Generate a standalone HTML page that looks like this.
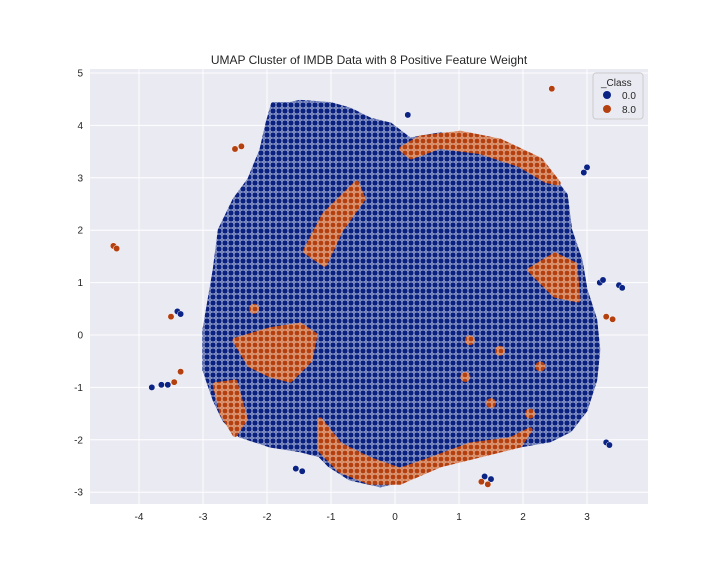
<!DOCTYPE html>
<html><head><meta charset="utf-8"><style>
body{margin:0;background:#fff;font-family:"Liberation Sans",sans-serif}
svg text{font-family:"Liberation Sans",sans-serif;fill:#262626}
</style></head><body>
<svg width="720" height="576" id="chart">
<defs>
<pattern id="navyDots" width="6" height="6" patternUnits="userSpaceOnUse">
<rect width="6" height="6" fill="#7080b8"/>
<circle cx="3" cy="3" r="2.9" fill="#0a2180" stroke="#cfd6ee" stroke-width="0.4"/>
</pattern>
<pattern id="orangeDots" width="6" height="6" patternUnits="userSpaceOnUse">
<rect width="6" height="6" fill="#d98a60"/>
<circle cx="3" cy="3" r="2.8" fill="#b5400f" stroke="#f3d8c8" stroke-width="0.4"/>
</pattern>
</defs>
<rect x="90" y="69" width="558" height="435" fill="#eaeaf2"/>
<g id="grid"></g>
<g id="marks"></g>
<g id="ticks"></g>
<text x="369" y="64" text-anchor="middle" font-size="12">UMAP Cluster of IMDB Data with 8 Positive Feature Weight</text>
<g>
<rect x="593" y="73" width="50" height="46" rx="3" fill="#eaeaf2" stroke="#cccccc"/>
<text x="601" y="86" font-size="10">_Class</text>
<circle cx="607" cy="95" r="4" fill="#0b2385"/>
<text x="622" y="99" font-size="10">0.0</text>
<circle cx="607" cy="109" r="4" fill="#b5400f"/>
<text x="622" y="113" font-size="10">8.0</text>
</g>
</svg>
<script>
const xTicks=[-4,-3,-2,-1,0,1,2,3];
const yTicks=[-3,-2,-1,0,1,2,3,4,5];
const mainBlob=[[-1.9,4.4],[-1.64,4.4],[-1.48,4.44],[-1.02,4.4],[-0.7,4.29],[-0.39,4.1],[-0.08,4.01],[0.23,3.72],[0.7,3.82],[1.33,3.72],[1.95,3.44],[2.42,3.05],[2.66,2.67],[2.73,2.0],[2.89,1.43],[2.97,0.86],[3.12,0.29],[3.17,-0.29],[3.12,-0.86],[2.97,-1.43],[2.73,-1.81],[2.42,-2.0],[1.95,-2.1],[1.48,-2.19],[1.17,-2.29],[0.7,-2.38],[0.39,-2.58],[0.08,-2.77],[-0.23,-2.86],[-0.7,-2.73],[-1.02,-2.48],[-1.17,-2.29],[-1.48,-2.19],[-1.95,-2.1],[-2.42,-1.91],[-2.66,-1.62],[-2.81,-1.24],[-2.97,-0.67],[-2.97,0.1],[-2.89,0.67],[-2.81,1.24],[-2.73,2.0],[-2.5,2.58],[-2.27,2.96],[-2.08,3.53],[-1.98,4.06]];
const orangeTop=[[0.1,3.55],[0.39,3.76],[1.02,3.85],[1.64,3.7],[2.27,3.34],[2.55,2.9],[2.36,2.95],[1.95,3.25],[1.33,3.5],[0.7,3.6],[0.25,3.4]];
const orangeBottom=[[-1.17,-1.62],[-0.86,-2.1],[-0.39,-2.38],[0.08,-2.58],[0.55,-2.38],[1.17,-2.1],[1.8,-2.0],[2.11,-1.81],[1.95,-2.1],[1.33,-2.29],[0.7,-2.48],[0.08,-2.81],[-0.39,-2.81],[-0.86,-2.58],[-1.17,-2.19]];
const orangeLeft=[[-2.5,-0.1],[-1.95,0.1],[-1.48,0.19],[-1.25,0.0],[-1.33,-0.48],[-1.64,-0.86],[-1.95,-0.76],[-2.27,-0.57]];
const orangeUpper=[[-1.4,1.6],[-1.1,2.3],[-0.6,2.9],[-0.5,2.6],[-0.85,2.0],[-1.1,1.35]];
const orangeRight=[[2.11,1.24],[2.5,1.53],[2.81,1.34],[2.86,0.67],[2.5,0.76]];
const orangeEdge=[[-2.81,-0.95],[-2.5,-0.9],[-2.34,-1.6],[-2.5,-1.9],[-2.7,-1.5]];
const orangeSpot=[[1.17,-0.1],[1.64,-0.3],[2.27,-0.6],[2.11,-1.5],[1.5,-1.3],[1.1,-0.8],[-2.2,0.5]];
const navyX=[-3.8,-3.65,-3.55,-3.4,-3.35,3.5,3.55,3.3,3.35,3.2,3.25,3.0,2.95,1.4,1.5,-1.55,-1.45,0.2];
const navyY=[-1.0,-0.95,-0.95,0.45,0.4,0.95,0.9,-2.05,-2.1,1.0,1.05,3.2,3.1,-2.7,-2.75,-2.55,-2.6,4.2];
const orangeX=[-4.4,-4.35,2.45,-3.45,-3.35,1.35,1.45,3.4,3.3,-2.5,-2.4,-3.5];
const orangeY=[1.7,1.65,4.7,-0.9,-0.7,-2.8,-2.85,0.3,0.35,3.55,3.6,0.35];
const X=v=>395+v*64, Y=v=>335-v*52.4;
const ns="http://www.w3.org/2000/svg";
const grid=document.getElementById('grid'),marks=document.getElementById('marks'),ticks=document.getElementById('ticks');
xTicks.forEach(t=>{const l=document.createElementNS(ns,'line');l.setAttribute('x1',X(t));l.setAttribute('x2',X(t));l.setAttribute('y1',69);l.setAttribute('y2',504);l.setAttribute('stroke','#fff');


grid.appendChild(l);
const tx=document.createElementNS(ns,'text');tx.setAttribute('x',X(t));tx.setAttribute('y',520);tx.setAttribute('text-anchor','middle');tx.setAttribute('font-size','10');tx.textContent=t;


ticks.appendChild(tx);});
yTicks.forEach(t=>{const l=document.createElementNS(ns,'line');l.setAttribute('y1',Y(t));l.setAttribute('y2',Y(t));l.setAttribute('x1',90);l.setAttribute('x2',648);l.setAttribute('stroke','#fff');


grid.appendChild(l);
const tx=document.createElementNS(ns,'text');tx.setAttribute('x',83);tx.setAttribute('y',Y(t)+3.5);tx.setAttribute('text-anchor','end');tx.setAttribute('font-size','10');tx.textContent=t;


ticks.appendChild(tx);});
function poly(pts,fill,name){const p=document.createElementNS(ns,'polygon');p.setAttribute('points',pts.map(q=>X(q[0])+','+Y(q[1])).join(' '));p.setAttribute('fill',fill);p.setAttribute('stroke',fill);p.setAttribute('stroke-width','5');p.setAttribute('stroke-linejoin','round');


marks.appendChild(p);}
poly(mainBlob,'url(#navyDots)','class-0-cluster');
poly(orangeTop,'url(#orangeDots)','class-8-top-region');
poly(orangeBottom,'url(#orangeDots)','class-8-bottom-region');
poly(orangeLeft,'url(#orangeDots)','class-8-left-region');
poly(orangeUpper,'url(#orangeDots)','class-8-upper-region');
poly(orangeRight,'url(#orangeDots)','class-8-right-region');
poly(orangeEdge,'url(#orangeDots)','class-8-edge-region');
orangeSpot.forEach(q=>{const c=document.createElementNS(ns,'circle');c.setAttribute('cx',X(q[0]));c.setAttribute('cy',Y(q[1]));c.setAttribute('r',5);c.setAttribute('fill','url(#orangeDots)');


marks.appendChild(c);});
function pts(xs,ys,fill,name){xs.forEach((x,i)=>{const c=document.createElementNS(ns,'circle');c.setAttribute('cx',X(x));c.setAttribute('cy',Y(ys[i]));c.setAttribute('r',3.2);c.setAttribute('fill',fill);c.setAttribute('stroke','#fff');c.setAttribute('stroke-width','0.5');


marks.appendChild(c);});}
pts(navyX,navyY,'#0b2385','class-0-point');
pts(orangeX,orangeY,'#b5400f','class-8-point');
</script>
</body></html>
